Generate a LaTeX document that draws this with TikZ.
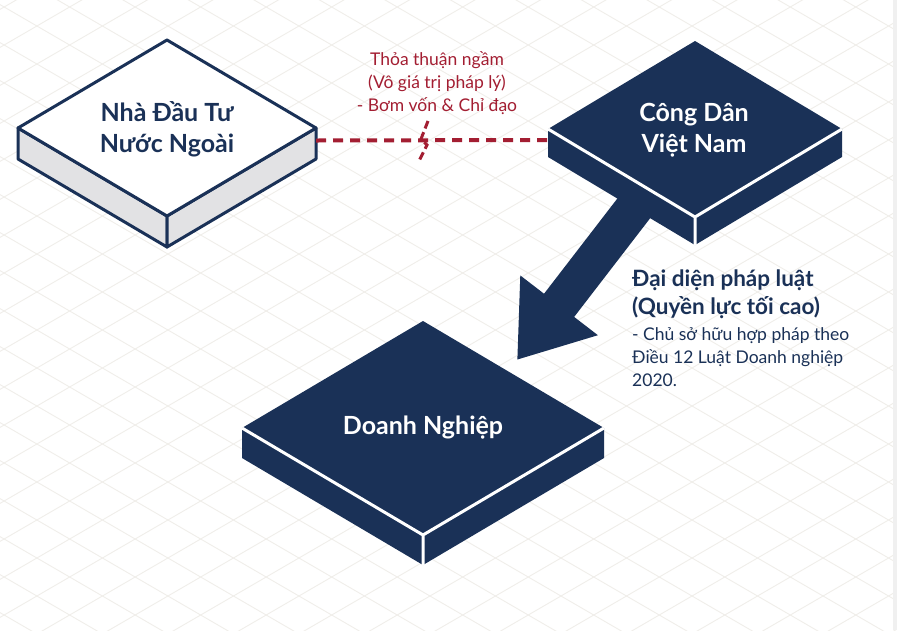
\documentclass[tikz,border=0pt]{standalone}
\usepackage{fontspec}
\setmainfont{Lato}
\usetikzlibrary{arrows.meta,backgrounds}
\definecolor{navy}{RGB}{26,49,87}
\definecolor{wine}{RGB}{163,30,50}
\definecolor{gridline}{RGB}{240,238,234}
\definecolor{slabgrey}{RGB}{226,226,228}
\tikzset{
  slab edge/.style={draw=navy,line width=3pt,line join=round},
  title/.style={font=\bfseries\fontsize{25}{31}\selectfont,align=center,inner sep=0pt},
  note/.style={font=\fontsize{17.5}{23}\selectfont,align=left,inner sep=0pt,text=navy},
  secret/.style={draw=wine,line width=4pt,dash pattern=on 10pt off 7pt},
  bigarrow/.style={draw=navy,line width=38pt,-{Triangle[length=69pt,width=93pt]}},
  % isometric slabs: half width, half height, thickness
  pics/lightslab/.style n args={3}{code={
    \filldraw[slab edge,fill=slabgrey] (-#1,0) -- (0,#2) -- (0,#2+#3) -- (-#1,#3) -- cycle;
    \filldraw[slab edge,fill=slabgrey] (#1,0) -- (0,#2) -- (0,#2+#3) -- (#1,#3) -- cycle;
    \filldraw[slab edge,fill=white] (-#1,0) -- (0,-#2) -- (#1,0) -- (0,#2) -- cycle;
    \coordinate (-east) at (#1,#3/2-3);
    \coordinate (-west) at (-#1,#3/2-3);
  }},
  pics/darkslab/.style n args={3}{code={
    \fill[navy] (-#1,0) -- (0,-#2) -- (#1,0) -- (#1,#3) -- (0,#2+#3) -- (-#1,#3) -- cycle;
    \draw[white,line width=3pt] (-#1,0) -- (0,#2) -- (#1,0) (0,#2) -- (0,#2+#3);
    \coordinate (-east) at (#1,#3/2-3);
    \coordinate (-west) at (-#1,#3/2-3);
  }},
}
\begin{document}
\begin{tikzpicture}[x=1pt,y=-1pt]
  \useasboundingbox (0,0) rectangle (897,630);
  \begin{scope}[on background layer]
    \fill[white] (0,0) rectangle (897,630);
    \clip (0,0) rectangle (897,630);
    \foreach \k in {-14,...,16}
      \draw[gridline,line width=0.9pt] (0,4.6+38*\k) -- (897,524.9+38*\k);
    \foreach \k in {0,...,30}
      \draw[gridline,line width=0.9pt] (0,9.4+38*\k) -- (897,-510.9+38*\k);
    \fill[gray!12] (893,0) rectangle (897,630);
  \end{scope}

  % the three parties
  \pic (inv) at (167,128) {lightslab={149}{88}{31}};
  \pic (cit) at (695,129) {darkslab={147}{88}{28}};
  \pic (firm) at (423,428) {darkslab={181}{107}{30}};

  \node[title,text=navy] (investor) at (167,129) {Nhà Đầu Tư\\Nước Ngoài};
  \node[title,text=white] (citizen) at (694,130) {Công Dân\\Việt Nam};
  \node[title,text=white] (company) at (423,428) {Doanh Nghiệp};
  \coordinate (tip) at (517,360);

  % hidden deal
  \draw[secret] (inv-east) -- (cit-west);
  \draw[wine,line width=3pt,dash pattern=on 8pt off 4pt] (428,121) -- (421,139) -- (427,145) -- (418,163);
  \node[note,text=wine,align=center,anchor=north] (deal) at (437,51)
    {Thỏa thuận ngầm\\(Vô giá trị pháp lý)\\- Bơm vốn \& Chỉ đạo};

  % legal representation
  \begin{scope}[on background layer]
    \draw[bigarrow] (citizen) -- (tip);
  \end{scope}
  \node[note,font=\bfseries\fontsize{22.5}{28}\selectfont,anchor=north west] (rolehead) at (632,270)
    {Đại diện pháp luật\\(Quyền lực tối cao)};
  \node[note,anchor=north west] (rolenote) at (632,327)
    {- Chủ sở hữu hợp pháp theo\\Điều 12 Luật Doanh nghiệp\\2020.};
\end{tikzpicture}
\end{document}
